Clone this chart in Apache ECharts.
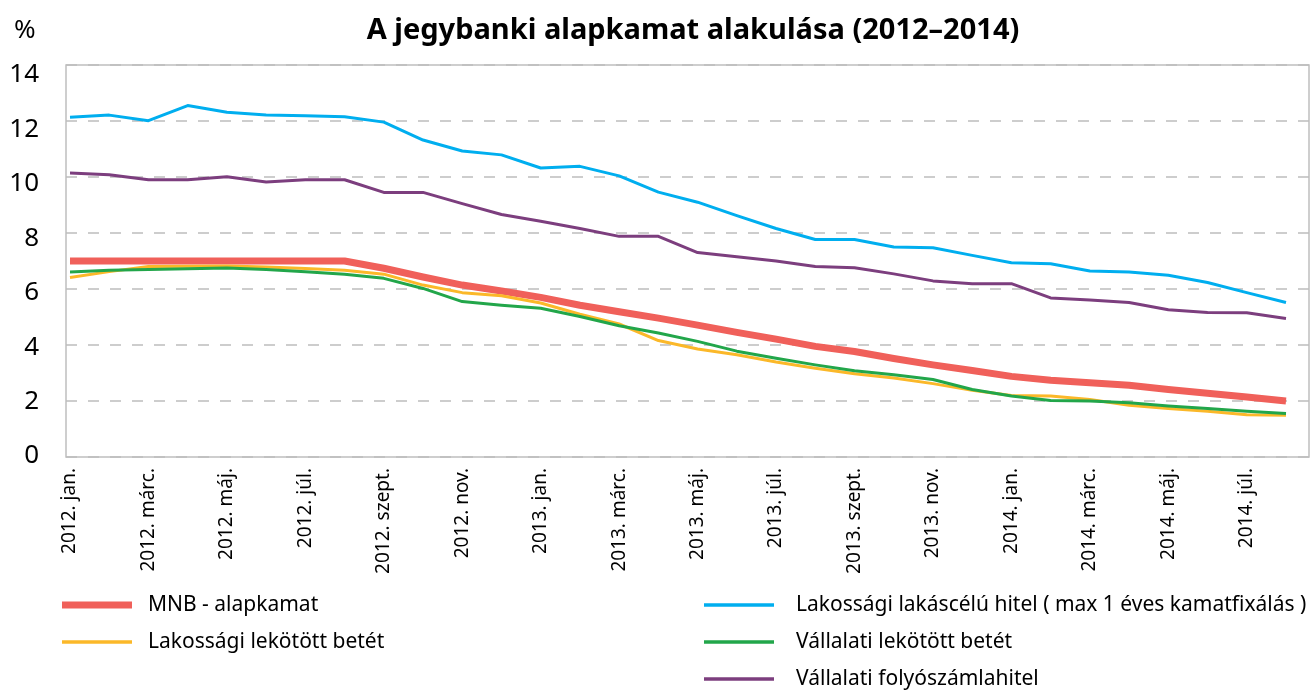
<!DOCTYPE html>
<html>
<head>
<meta charset="utf-8">
<script src="https://cdn.jsdelivr.net/npm/echarts@6/dist/echarts.min.js"></script>
<style>
  html, body { margin: 0; padding: 0; background: #fff; }
  #chart { width: 1313px; height: 698px; }
</style>
</head>
<body>
<div id="chart"></div>
<script>
// Monthly categories, 2012 January – 2014 August
const monthNames = ['jan.', 'febr.', 'márc.', 'ápr.', 'máj.', 'jún.', 'júl.', 'aug.', 'szept.', 'okt.', 'nov.', 'dec.'];
const categories = [];
for (const y of [2012, 2013, 2014]) {
  for (let m = 0; m < 12; m++) {
    if (y === 2014 && m > 7) break;
    categories.push(y + '. ' + monthNames[m]);
  }
}

// Interest rates, %
const mnbBaseRate = [7.00, 7.00, 7.00, 7.00, 7.00, 7.00, 7.00, 7.00, 6.74, 6.43, 6.14, 5.93,
                     5.70, 5.42, 5.19, 4.96, 4.71, 4.45, 4.21, 3.95, 3.77, 3.52, 3.29, 3.09,
                     2.88, 2.74, 2.65, 2.56, 2.41, 2.28, 2.14, 2.00];
const householdDeposit = [6.41, 6.62, 6.80, 6.81, 6.82, 6.79, 6.73, 6.67, 6.53, 6.14, 5.87, 5.76,
                          5.50, 5.10, 4.75, 4.16, 3.86, 3.65, 3.39, 3.17, 2.97, 2.82, 2.62, 2.38,
                          2.20, 2.18, 2.05, 1.85, 1.73, 1.63, 1.51, 1.49];
const housingLoan = [12.13, 12.21, 12.01, 12.55, 12.31, 12.21, 12.19, 12.15, 11.96, 11.32, 10.93, 10.79,
                     10.32, 10.38, 10.04, 9.46, 9.10, 8.62, 8.16, 7.77, 7.77, 7.50, 7.47, 7.20,
                     6.94, 6.90, 6.64, 6.61, 6.49, 6.23, 5.87, 5.52];
const corporateDeposit = [6.61, 6.67, 6.70, 6.72, 6.75, 6.70, 6.62, 6.53, 6.38, 6.02, 5.55, 5.42,
                          5.31, 5.02, 4.69, 4.43, 4.13, 3.78, 3.53, 3.29, 3.08, 2.94, 2.77, 2.41,
                          2.18, 2.02, 2.00, 1.94, 1.82, 1.73, 1.63, 1.55];
const corporateOverdraft = [10.14, 10.08, 9.90, 9.90, 10.01, 9.82, 9.90, 9.90, 9.45, 9.45, 9.05, 8.66,
                            8.42, 8.16, 7.88, 7.88, 7.30, 7.15, 7.00, 6.80, 6.76, 6.54, 6.29, 6.19,
                            6.19, 5.68, 5.61, 5.52, 5.26, 5.16, 5.15, 4.95];

const yTicks = { min: 0, max: 14, interval: 2 };

const names = {
  mnb: 'MNB - alapkamat',
  hhDep: 'Lakossági lekötött betét',
  loan: 'Lakossági lakáscélú hitel ( max 1 éves kamatfixálás )',
  corpDep: 'Vállalati lekötött betét',
  overdraft: 'Vállalati folyószámlahitel'
};
const colors = {
  mnb: '#f0605a',
  hhDep: '#fbb829',
  loan: '#00aeef',
  corpDep: '#22a64a',
  overdraft: '#7c3e7e'
};

const FONT = '"Noto Sans", "Open Sans", sans-serif';
const thinIcon = 'path://M0,0H70V3.5H0Z';
const thickIcon = 'path://M0,0H70V7H0Z';

function lineSeries(key, data, width, z) {
  return {
    name: names[key],
    type: 'line',
    xAxisIndex: 0,
    yAxisIndex: 0,
    data: data,
    symbol: 'none',
    color: colors[key],
    lineStyle: { color: colors[key], width: width, cap: 'butt', join: 'round' },
    z: z,
    silent: true
  };
}

const chart = echarts.init(document.getElementById('chart'), null, { renderer: 'canvas' });
chart.setOption({
  animation: false,
  backgroundColor: '#ffffff',
  title: [
    {
      text: 'A jegybanki alapkamat alakulása (2012–2014)',
      left: 688, top: 11, textAlign: 'center',
      textStyle: { fontFamily: FONT, fontSize: 29, fontWeight: 'bold', color: '#000' }
    },
    {
      text: '%',
      left: 9, top: 13,
      textStyle: { fontFamily: FONT, fontSize: 26, fontWeight: 'normal', color: '#000' }
    }
  ],
  grid: [
    // data area
    { left: 70, right: 27, top: 65, bottom: 241 },
    // plot frame and gridlines
    { left: 66, right: 4, top: 65, bottom: 241, show: true, borderColor: '#bfbfbf', borderWidth: 1.5, backgroundColor: 'transparent' },
    // value labels
    { left: 66, right: 4, top: 75, bottom: 242 }
  ],
  xAxis: [
    {
      gridIndex: 0, type: 'category', data: categories, boundaryGap: false,
      axisLine: { show: false }, axisTick: { show: false },
      axisLabel: {
        interval: 1, rotate: 90, margin: 11,
        fontFamily: FONT, fontSize: 19, color: '#000'
      }
    },
    { gridIndex: 1, type: 'value', show: false },
    { gridIndex: 2, type: 'value', show: false }
  ],
  yAxis: [
    { gridIndex: 0, type: 'value', min: yTicks.min, max: yTicks.max, interval: yTicks.interval, show: false },
    {
      gridIndex: 1, type: 'value', min: yTicks.min, max: yTicks.max, interval: yTicks.interval,
      axisLine: { show: false }, axisTick: { show: false }, axisLabel: { show: false },
      splitLine: { show: true, lineStyle: { color: '#bdbdbd', width: 1.5, type: [11, 11] } }
    },
    {
      gridIndex: 2, type: 'value', min: yTicks.min, max: yTicks.max, interval: yTicks.interval,
      axisLine: { show: false }, axisTick: { show: false }, splitLine: { show: false },
      axisLabel: { margin: 27, fontFamily: FONT, fontSize: 26, color: '#000' }
    }
  ],
  legend: [
    {
      orient: 'vertical', left: 57, top: 589,
      itemWidth: 70, itemHeight: 22, itemGap: 15,
      selectedMode: false,
      textStyle: { fontFamily: FONT, fontSize: 21, color: '#000', lineHeight: 22, padding: [0, 0, 0, 11] },
      data: [
        { name: names.mnb, icon: thickIcon },
        { name: names.hhDep, icon: thinIcon }
      ]
    },
    {
      orient: 'vertical', left: 699, top: 589,
      itemWidth: 70, itemHeight: 22, itemGap: 15,
      selectedMode: false,
      textStyle: { fontFamily: FONT, fontSize: 21, color: '#000', lineHeight: 22, padding: [0, 0, 0, 17] },
      data: [
        { name: names.loan, icon: thinIcon },
        { name: names.corpDep, icon: thinIcon },
        { name: names.overdraft, icon: thinIcon }
      ]
    }
  ],
  series: [
    lineSeries('mnb', mnbBaseRate, 7, 2),
    lineSeries('hhDep', householdDeposit, 3, 3),
    lineSeries('loan', housingLoan, 3, 3),
    lineSeries('corpDep', corporateDeposit, 3, 3),
    lineSeries('overdraft', corporateOverdraft, 3, 3)
  ]
});
</script>
</body>
</html>
